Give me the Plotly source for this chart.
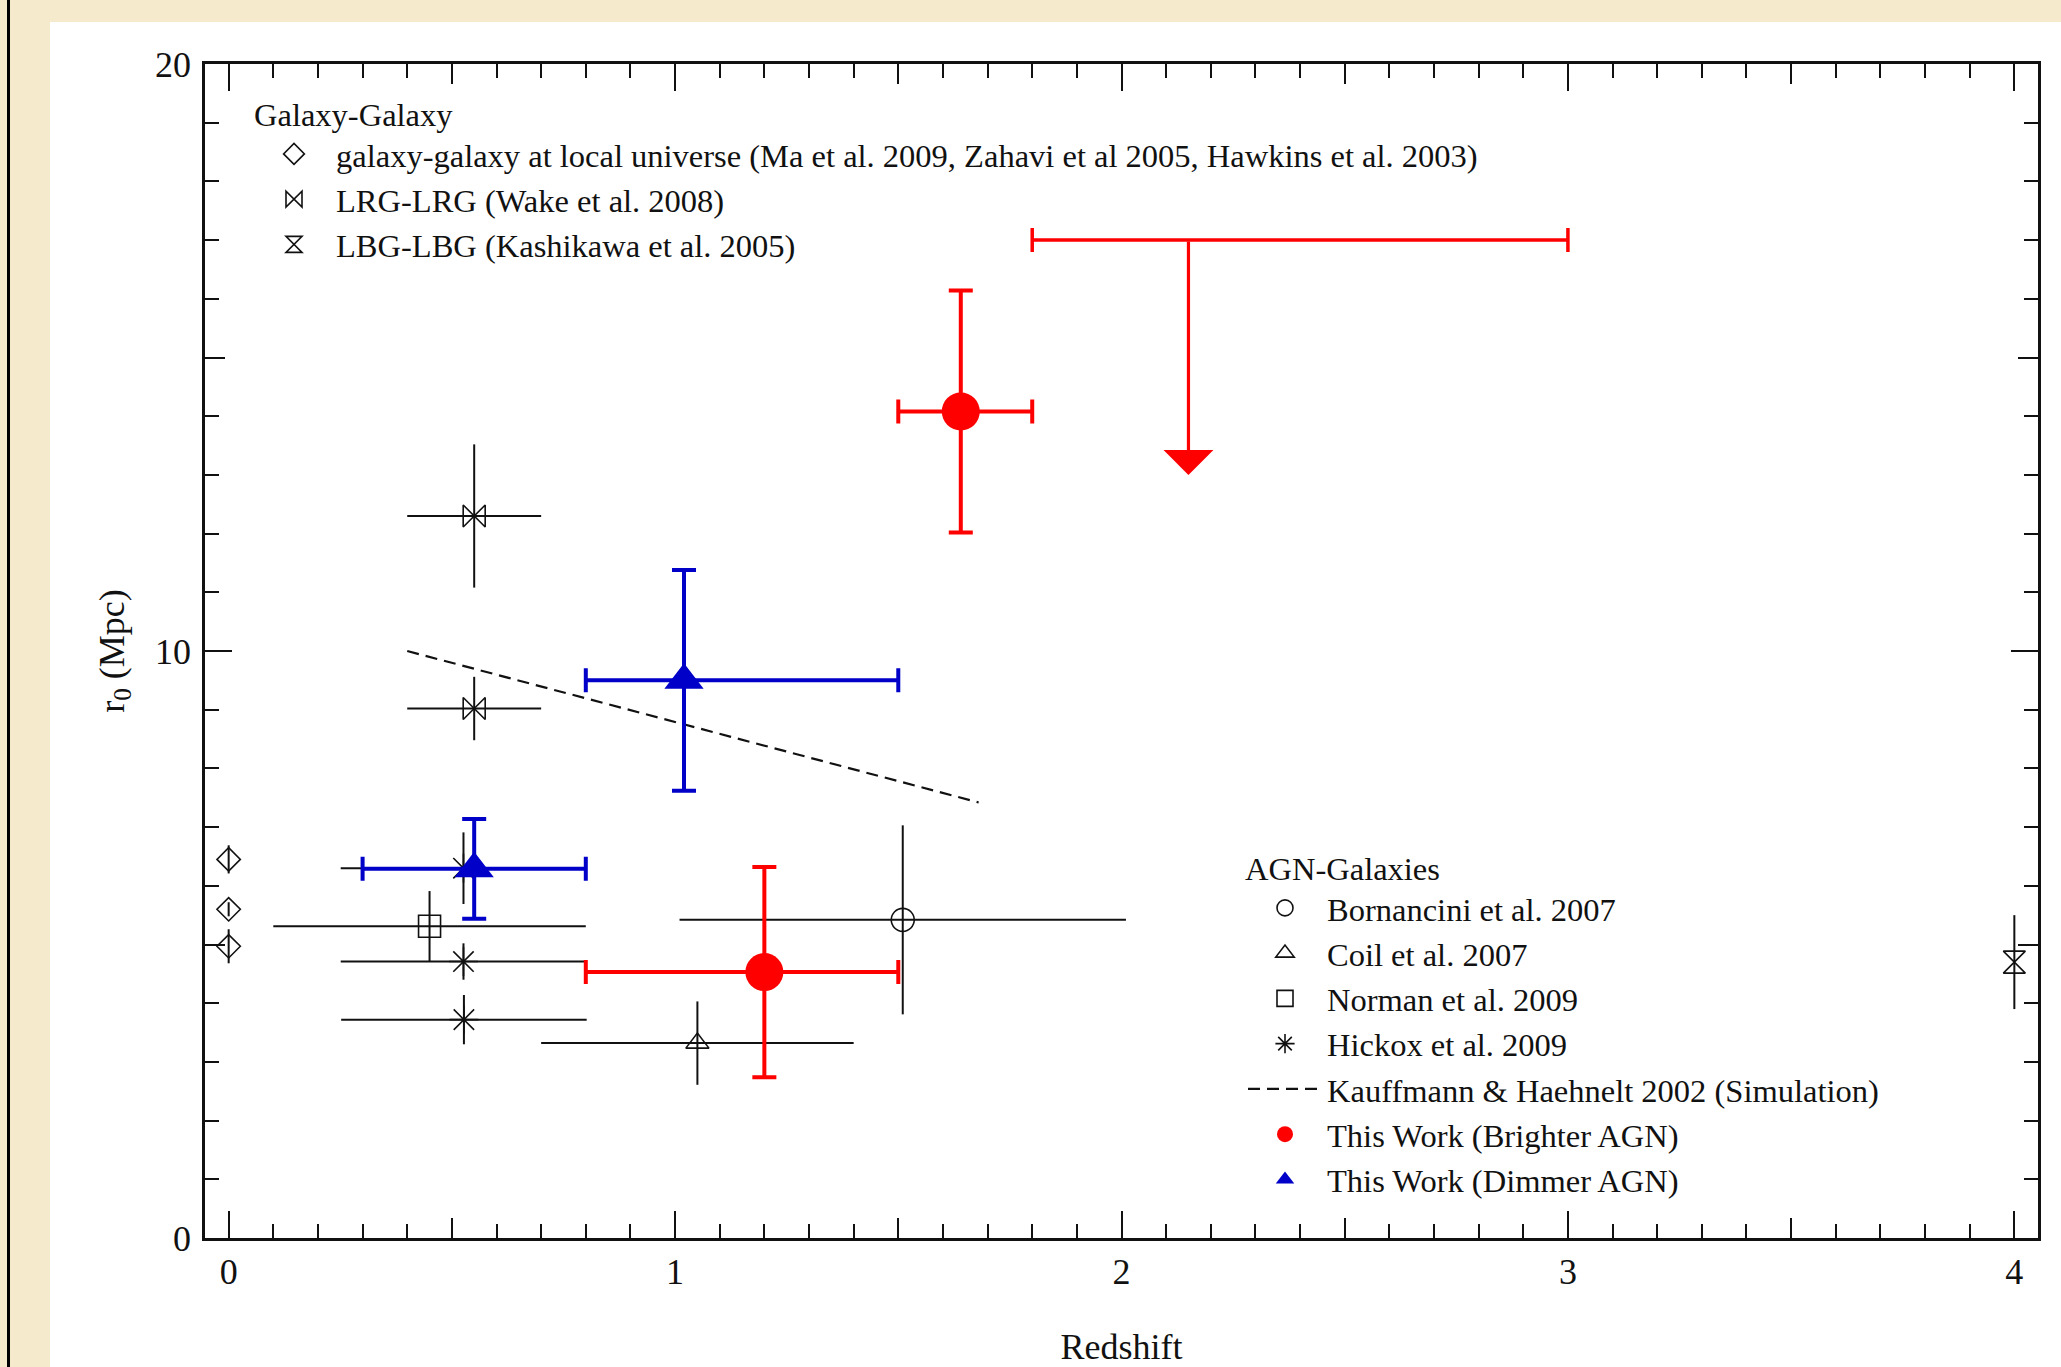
import plotly.graph_objects as go

# ---------------- data ----------------
# Galaxy-Galaxy: local universe
local_z = [0.0, 0.0, 0.0]
local_r0 = [6.45, 5.60, 4.97]
local_r0_err = [0.24, 0.12, 0.29]

# LRG-LRG (Wake et al. 2008)
lrg_z = [0.55, 0.55]
lrg_z_err = [0.15, 0.15]
lrg_r0 = [12.30, 9.02]
lrg_r0_err = [1.22, 0.54]

# LBG-LBG (Kashikawa et al. 2005)
lbg_z = [4.0]
lbg_r0 = [4.70]
lbg_r0_err = [0.80]

# Bornancini et al. 2007
born_z = [1.51]
born_z_err = [0.50]
born_r0 = [5.42]
born_r0_err = [1.61]

# Coil et al. 2007
coil_z = [1.05]
coil_z_err = [0.35]
coil_r0 = [3.32]
coil_r0_err = [0.71]

# Norman et al. 2009
norm_z = [0.45]
norm_z_err = [0.35]
norm_r0 = [5.31]
norm_r0_err = [0.60]

# Hickox et al. 2009
hick_z = [0.526, 0.526, 0.527]
hick_z_err = [0.275, 0.275, 0.275]
hick_r0 = [6.30, 4.71, 3.72]
hick_r0_err = [0.61, 0.31, 0.42]

# Kauffmann & Haehnelt 2002 (Simulation)
kh_z = [0.40, 1.68]
kh_r0 = [10.0, 7.42]

# This Work (Brighter AGN)
bright_z = [1.20, 1.64]
bright_z_err_minus = [0.40, 0.14]
bright_z_err_plus = [0.30, 0.16]
bright_r0 = [4.53, 14.08]
bright_r0_err = [1.79, 2.06]

# Brighter AGN upper limit
limit_z_low = 1.80
limit_z_high = 3.00
limit_r0 = 17.0
limit_arrow_z = 2.15
limit_arrow_tip = 13.0

# This Work (Dimmer AGN)
dim_z = [0.55, 1.02]
dim_z_err_minus = [0.25, 0.22]
dim_z_err_plus = [0.25, 0.48]
dim_r0 = [6.29, 9.50]
dim_r0_err = [0.85, 1.88]

x_tick_vals = [0, 0.5, 1, 1.5, 2, 2.5, 3, 3.5, 4]
x_tick_text = ["0", "", "1", "", "2", "", "3", "", "4"]
y_tick_vals = [0, 5, 10, 15, 20]
y_tick_text = ["0", "", "10", "", "20"]
x_major = [0, 1, 2, 3, 4]
y_major = [0, 10, 20]

# ---------------- style ----------------
FONT = "Liberation Serif"
FS_LEG = 32.5
FS_AX = 36
BLACK = "#111111"
RED = "#FF0000"
BLUE = "#0000C8"
BEIGE = "#F5EACB"

W, H = 2061, 1367
L, R, T, B = 205, 23, 64, 129
PW, PH = W - L - R, H - T - B


def px_x(p):
    return (p - L) / PW


def px_y(p):
    return (H - B - p) / PH


def black_err(arr):
    return dict(type="data", array=arr, color=BLACK, thickness=2, width=0, visible=True)


fig = go.Figure()

fig.add_trace(go.Scatter(
    x=local_z, y=local_r0, mode="markers",
    name="galaxy-galaxy at local universe (Ma et al. 2009, Zahavi et al 2005, Hawkins et al. 2003)",
    marker=dict(symbol="diamond-open", size=18, color=BLACK, line=dict(width=1.6, color=BLACK)),
    error_y=black_err(local_r0_err), legend="legend"))

fig.add_trace(go.Scatter(
    x=lrg_z, y=lrg_r0, mode="markers", name="LRG-LRG (Wake et al. 2008)",
    marker=dict(symbol="bowtie-open", size=22, color=BLACK, line=dict(width=1.6, color=BLACK)),
    error_x=black_err(lrg_z_err), error_y=black_err(lrg_r0_err), legend="legend"))

fig.add_trace(go.Scatter(
    x=lbg_z, y=lbg_r0, mode="markers", name="LBG-LBG (Kashikawa et al. 2005)",
    marker=dict(symbol="hourglass-open", size=22, color=BLACK, line=dict(width=1.6, color=BLACK)),
    error_y=black_err(lbg_r0_err), legend="legend"))

fig.add_trace(go.Scatter(
    x=born_z, y=born_r0, mode="markers", name="Bornancini et al. 2007",
    marker=dict(symbol="circle-open", size=23, color=BLACK, line=dict(width=1.6, color=BLACK)),
    error_x=black_err(born_z_err), error_y=black_err(born_r0_err), legend="legend2"))

fig.add_trace(go.Scatter(
    x=coil_z, y=coil_r0, mode="markers", name="Coil et al. 2007",
    marker=dict(symbol="triangle-up-open", size=20, color=BLACK, line=dict(width=1.6, color=BLACK)),
    error_x=black_err(coil_z_err), error_y=black_err(coil_r0_err), legend="legend2"))

fig.add_trace(go.Scatter(
    x=norm_z, y=norm_r0, mode="markers", name="Norman et al. 2009",
    marker=dict(symbol="square-open", size=22, color=BLACK, line=dict(width=1.6, color=BLACK)),
    error_x=black_err(norm_z_err), error_y=black_err(norm_r0_err), legend="legend2"))

fig.add_trace(go.Scatter(
    x=hick_z, y=hick_r0, mode="markers", name="Hickox et al. 2009",
    marker=dict(symbol="asterisk-open", size=24, color=BLACK, line=dict(width=1.6, color=BLACK)),
    error_x=black_err(hick_z_err), error_y=black_err(hick_r0_err), legend="legend2"))

fig.add_trace(go.Scatter(
    x=kh_z, y=kh_r0, mode="lines", name="Kauffmann & Haehnelt 2002 (Simulation)",
    line=dict(color=BLACK, width=2.2, dash="12px,7px"), legend="legend2"))

fig.add_trace(go.Scatter(
    x=bright_z, y=bright_r0, mode="markers", name="This Work (Brighter AGN)",
    marker=dict(symbol="circle", size=38, color=RED),
    error_x=dict(type="data", symmetric=False, array=bright_z_err_plus, arrayminus=bright_z_err_minus,
                 color=RED, thickness=4, width=12),
    error_y=dict(type="data", array=bright_r0_err, color=RED, thickness=4, width=12),
    legend="legend2"))

fig.add_trace(go.Scatter(
    x=dim_z, y=dim_r0, mode="markers", name="This Work (Dimmer AGN)",
    marker=dict(symbol="triangle-up", size=34, color=BLUE),
    error_x=dict(type="data", symmetric=False, array=dim_z_err_plus, arrayminus=dim_z_err_minus,
                 color=BLUE, thickness=4, width=12),
    error_y=dict(type="data", array=dim_r0_err, color=BLUE, thickness=4, width=12),
    legend="legend2"))

# upper limit bar
lim_c = (limit_z_low + limit_z_high) / 2
lim_hw = (limit_z_high - limit_z_low) / 2
fig.add_trace(go.Scatter(
    x=[lim_c], y=[limit_r0], mode="markers", showlegend=False,
    marker=dict(size=1, color=RED, opacity=0),
    error_x=dict(type="data", array=[lim_hw], color=RED, thickness=3.5, width=12)))

fig.add_annotation(x=limit_arrow_z, y=limit_arrow_tip, ax=limit_arrow_z, ay=limit_r0,
                   xref="x", yref="y", axref="x", ayref="y", text="", showarrow=True,
                   arrowhead=1, arrowsize=2.6, arrowwidth=3.2, arrowcolor=RED, standoff=0)

# empty traces to bind the overlay axes (long major ticks)
fig.add_trace(go.Scatter(x=[], y=[], xaxis="x2", yaxis="y", showlegend=False))
fig.add_trace(go.Scatter(x=[], y=[], xaxis="x", yaxis="y2", showlegend=False))

XR = [-0.053, 4.053]
YR = [0, 20]
axis_common = dict(showgrid=False, zeroline=False, showline=True, linecolor=BLACK, linewidth=2.5,
                   ticks="inside", tickcolor=BLACK, tickwidth=2, mirror="ticks", automargin=False,
                   tickfont=dict(family=FONT, size=FS_AX, color=BLACK))

leg_common = dict(xanchor="left", yanchor="top", bgcolor="rgba(0,0,0,0)",
                  font=dict(family=FONT, size=FS_LEG, color=BLACK),
                  itemwidth=74, itemsizing="trace", tracegroupgap=0)

fig.update_layout(
    template="none",
    width=W, height=H,
    margin=dict(l=L, r=R, t=T, b=B, autoexpand=False),
    paper_bgcolor=BEIGE, plot_bgcolor="white",
    font=dict(family=FONT, size=FS_LEG, color=BLACK),
    xaxis=dict(range=XR, tickmode="array", tickvals=x_tick_vals, ticktext=x_tick_text, ticklen=20,
               minor=dict(dtick=0.1, tick0=0, ticklen=14, tickwidth=2, ticks="inside", tickcolor=BLACK),
               title=dict(text="Redshift", font=dict(family=FONT, size=FS_AX), standoff=65),
               ticklabelstandoff=0, **axis_common),
    yaxis=dict(range=YR, tickmode="array", tickvals=y_tick_vals, ticktext=y_tick_text, ticklen=20,
               minor=dict(dtick=1, tick0=0, ticklen=14, tickwidth=2, ticks="inside", tickcolor=BLACK),
               title=dict(text="r<sub>0</sub> (Mpc)", font=dict(family=FONT, size=FS_AX), standoff=20),
               ticklabelstandoff=4, **axis_common),
    xaxis2=dict(range=XR, overlaying="x", anchor="y", side="bottom", tickmode="array",
                tickvals=x_major, ticklen=27, showticklabels=False, **axis_common),
    yaxis2=dict(range=YR, overlaying="y", anchor="x", side="left", tickmode="array",
                tickvals=y_major, ticklen=27, showticklabels=False, **axis_common),
    legend=dict(title=dict(text="Galaxy-Galaxy", font=dict(family=FONT, size=FS_LEG)),
                x=px_x(252), y=px_y(84), **leg_common),
    legend2=dict(title=dict(text="AGN-Galaxies", font=dict(family=FONT, size=FS_LEG)),
                 x=px_x(1243), y=px_y(838), **leg_common),
    shapes=[
        dict(type="rect", xref="paper", yref="paper", x0=px_x(50), x1=px_x(W + 20),
             y0=px_y(H + 20), y1=px_y(22), fillcolor="white", line=dict(width=0), layer="below"),
        dict(type="line", xref="paper", yref="paper", x0=px_x(8.5), x1=px_x(8.5),
             y0=px_y(H + 5), y1=px_y(-5), line=dict(color="black", width=3)),
    ],
)

fig.write_html("out.html", config={"displayModeBar": False},
               post_script="document.body.style.margin='0';document.body.style.overflow='hidden';")
